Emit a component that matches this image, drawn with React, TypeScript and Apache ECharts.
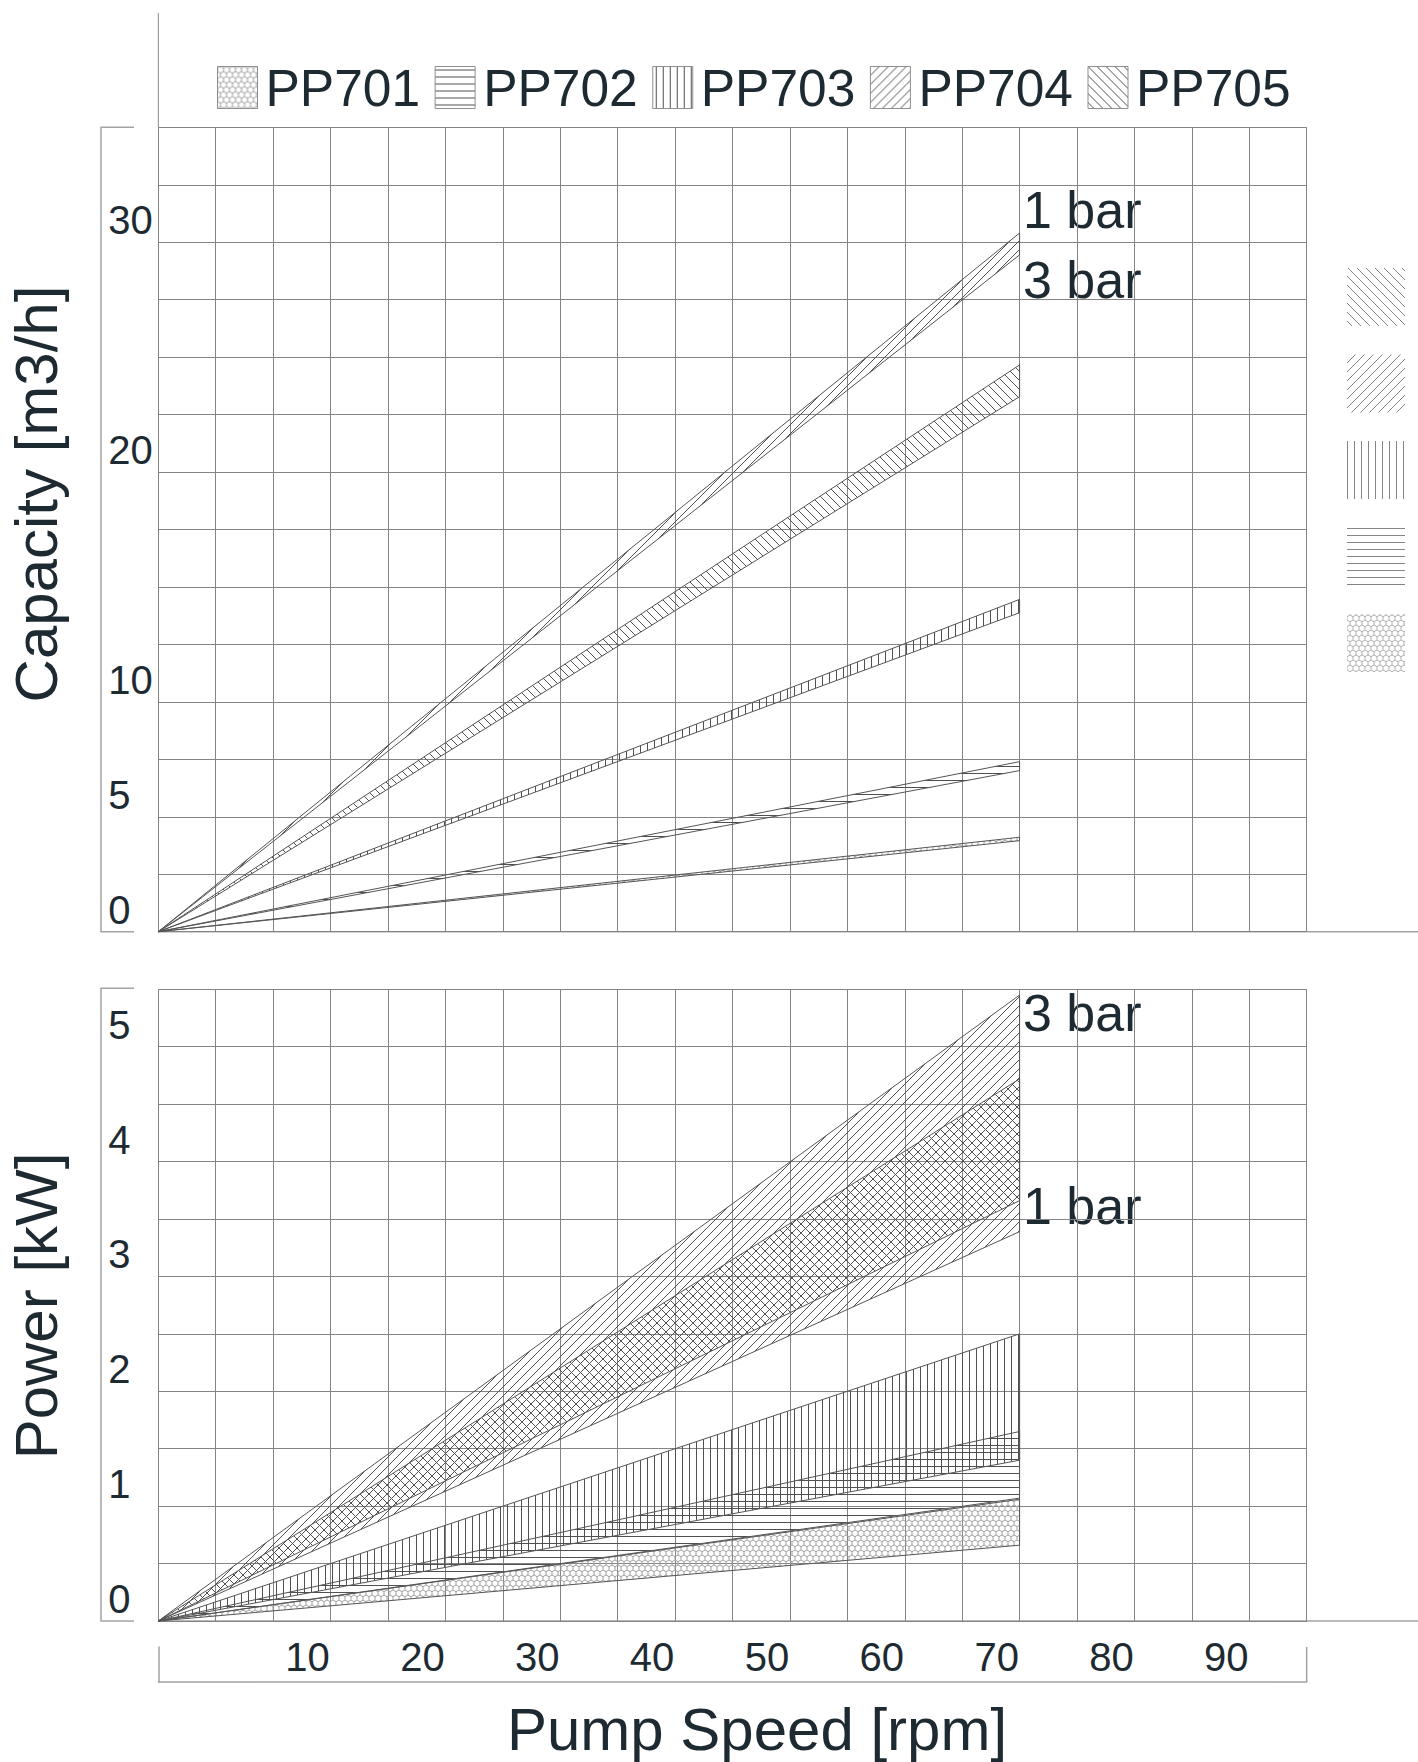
import React, { useEffect, useRef } from 'react';
import * as echarts from 'echarts';

// ---------- data ----------
const pumps = ['PP701', 'PP702', 'PP703', 'PP704', 'PP705'];
const patternKinds = ['hex', 'horizontal', 'vertical', 'slash', 'backslash'];
const rpmEnd = [75, 75, 75, 75, 75];
const capacity1Bar = [4.11, 7.4, 14.46, 30.4, 24.66];
const capacity3Bar = [3.96, 7.01, 13.88, 29.45, 23.28];
const power1Bar = [0.66, 1.07, 1.4, 3.39, 3.66];
const power3Bar = [1.06, 1.65, 2.5, 5.45, 4.72];
const capacityTickLabels = [0, 5, 10, 20, 30];
const powerTickLabels = [0, 1, 2, 3, 4, 5];
const speedTickLabels = [10, 20, 30, 40, 50, 60, 70, 80, 90];
const swatchOrder = ['PP705', 'PP704', 'PP703', 'PP702', 'PP701'];

// ---------- layout / style ----------
const FONT = '"Liberation Sans", Arial, Helvetica, sans-serif';
const TEXT = '#1e2a32';
const GRID = '#848484';
const AXIS = '#a3a3a3';
const GL = 158.3;
const GW = 1148.4;
const G1 = { top: 127.3, height: 804.4 };
const G2 = { top: 989.3, height: 631.7 };
const G3 = { top: 1647, height: 35 };

function makePattern(kind: string, color?: string) {
  let w = 9;
  let h = 9;
  if (kind === 'hex') { w = 6; h = 10; }
  if (kind === 'horizontal' || kind === 'vertical') { w = 7; h = 7; }
  const c = document.createElement('canvas');
  c.width = w;
  c.height = h;
  const ctx = c.getContext('2d') as CanvasRenderingContext2D;
  ctx.strokeStyle = color || (kind === 'hex' ? '#a0a0a0' : '#505050');
  ctx.lineWidth = 1;
  ctx.beginPath();
  if (kind === 'horizontal') {
    ctx.moveTo(0, 3.5); ctx.lineTo(w, 3.5);
  } else if (kind === 'vertical') {
    ctx.moveTo(3.5, 0); ctx.lineTo(3.5, h);
  } else if (kind === 'slash') {
    ctx.moveTo(-1, h + 1); ctx.lineTo(w + 1, -1);
    ctx.moveTo(-1, 1); ctx.lineTo(1, -1);
    ctx.moveTo(w - 1, h + 1); ctx.lineTo(w + 1, h - 1);
  } else if (kind === 'backslash') {
    ctx.moveTo(-1, -1); ctx.lineTo(w + 1, h + 1);
    ctx.moveTo(-1, h - 1); ctx.lineTo(1, h + 1);
    ctx.moveTo(w - 1, -1); ctx.lineTo(w + 1, 1);
  } else {
    const s = h / 3;
    ctx.moveTo(w / 2, 0);
    ctx.lineTo(w, s / 2);
    ctx.lineTo(w, 1.5 * s);
    ctx.lineTo(w / 2, 2 * s);
    ctx.lineTo(0, 1.5 * s);
    ctx.lineTo(0, s / 2);
    ctx.closePath();
    ctx.moveTo(w / 2, 2 * s);
    ctx.lineTo(w / 2, h);
  }
  ctx.stroke();
  return { image: c, repeat: 'repeat', imageWidth: w, imageHeight: h };
}

function textEl(text: string, x: number, y: number, size: number, align = 'left', rotation = 0) {
  return {
    type: 'text',
    x,
    y,
    rotation,
    silent: true,
    style: {
      text,
      x: 0,
      y: 0,
      fill: TEXT,
      font: `${size}px ${FONT}`,
      fontSize: size,
      fontFamily: FONT,
      align,
      textAlign: align,
      verticalAlign: 'middle',
      textVerticalAlign: 'middle',
    },
  };
}

export default function App() {
  const ref = useRef<HTMLDivElement>(null);

  useEffect(() => {
    if (!ref.current) return;
    const chart = echarts.init(ref.current, null, { renderer: 'svg' });
    const patterns = patternKinds.map((k) => makePattern(k));
    const lightPatterns = patternKinds.map((k) => makePattern(k, k === 'hex' ? '#b0b0b0' : '#858585'));
    const swatchPatternOf = (name: string) => lightPatterns[pumps.indexOf(name)];

    const bandSeries = (gi: number, lo: number[], hi: number[]) =>
      pumps.map((name, i) => ({
        type: 'custom',
        name,
        xAxisIndex: gi,
        yAxisIndex: gi,
        silent: true,
        z: 3,
        data: [[rpmEnd[i], lo[i], hi[i]]],
        encode: { x: 0, y: [1, 2] },
        itemStyle: { color: patterns[i] },
        renderItem: (_p: any, api: any) => {
          const o = api.coord([0, 0]);
          const a = api.coord([api.value(0), api.value(2)]);
          const b = api.coord([api.value(0), api.value(1)]);
          return {
            type: 'polygon',
            shape: { points: [o, a, b] },
            style: { fill: patterns[i], stroke: '#555', lineWidth: 1 },
          };
        },
      }));

    const splitLine = { show: true, lineStyle: { color: GRID, width: 1 } };
    const mainX = (gi: number) => ({
      type: 'value', gridIndex: gi, min: 0, max: 100, interval: 5,
      axisLine: { show: false }, axisTick: { show: false }, axisLabel: { show: false },
      splitLine,
    });
    const mainY = (gi: number, max: number, interval: number, labels: number[]) => ({
      type: 'value', gridIndex: gi, min: 0, max, interval,
      axisLine: { show: false }, axisTick: { show: false }, splitLine,
      axisLabel: {
        formatter: (v: number) => (labels.indexOf(v) >= 0 ? String(v) : ''),
        align: 'left', margin: 50, verticalAlign: 'bottom', lineHeight: 44,
        fontSize: 40, color: TEXT, fontFamily: FONT,
      },
    });

    const b1 = G1.top + G1.height;
    const b2 = G2.top + G2.height;
    const b3 = G3.top + G3.height;
    const lineEl = (x1: number, y1: number, x2: number, y2: number, color = AXIS, w = 1.5) => ({
      type: 'line', silent: true, shape: { x1, y1, x2, y2 }, style: { stroke: color, lineWidth: w },
    });
    const bracket = (top: number, bottom: number) => ({
      type: 'polyline', silent: true,
      shape: { points: [[134, top], [101, top], [101, bottom], [134, bottom]] },
      style: { stroke: AXIS, lineWidth: 1.5, fill: null },
    });

    const graphics: any[] = [
      lineEl(GL, 13, GL, G1.top, '#8a8a8a', 1),
      lineEl(GL, b1, 1418, b1),
      lineEl(GL, b2, 1418, b2),
      lineEl(GL + GW, G3.top, GL + GW, b3),
      bracket(G1.top, b1),
      bracket(G2.top - 1, b2),
      ...swatchOrder.map((name, k) => ({
        type: 'rect', silent: true,
        shape: { x: 1347, y: 268 + k * 86.5, width: 58, height: 58 },
        style: { fill: swatchPatternOf(name), stroke: null },
      })),
      textEl('Capacity [m3/h]', 36, 494, 60, 'center', Math.PI / 2),
      textEl('Power [kW]', 36, 1306, 60, 'center', Math.PI / 2),
      textEl('Pump Speed [rpm]', 757, 1729, 60, 'center'),
      textEl('1 bar', 1023, 210, 52),
      textEl('3 bar', 1023, 280, 52),
      textEl('3 bar', 1023, 1013, 52),
      textEl('1 bar', 1023, 1206, 52),
    ];

    const option: any = {
      animation: false,
      backgroundColor: '#ffffff',
      legend: {
        left: 217,
        top: 61.5,
        padding: 0,
        itemWidth: 40,
        itemHeight: 42,
        itemGap: 14.5,
        selectedMode: false,
        icon: 'rect',
        textStyle: { fontSize: 51.5, color: TEXT, fontFamily: FONT, padding: [0, 0, 0, 3] },
        data: pumps.map((name, i) => ({
          name,
          icon: 'rect',
          itemStyle: { color: patterns[i], borderColor: '#8f8f8f', borderWidth: 1 },
        })),
      },
      grid: [
        { left: GL, width: GW, top: G1.top, height: G1.height },
        { left: GL, width: GW, top: G2.top, height: G2.height },
        { left: GL, width: GW, top: G3.top, height: G3.height },
      ],
      xAxis: [
        mainX(0),
        mainX(1),
        {
          type: 'value', gridIndex: 2, min: -3, max: 97, interval: 1,
          axisLine: { show: true, onZero: false, lineStyle: { color: AXIS, width: 1.5 } },
          axisTick: { show: false }, splitLine: { show: false },
          axisLabel: {
            inside: true, margin: 25, verticalAlign: 'middle',
            fontSize: 40, color: TEXT, fontFamily: FONT,
            formatter: (v: number) => {
              const r = Math.round(v);
              return Math.abs(v - r) < 1e-6 && speedTickLabels.indexOf(r) >= 0 ? String(r) : '';
            },
          },
        },
      ],
      yAxis: [
        mainY(0, 35, 2.5, capacityTickLabels),
        mainY(1, 5.5, 0.5, powerTickLabels),
        {
          type: 'value', gridIndex: 2, min: 0, max: 1, position: 'left',
          axisLine: { show: true, onZero: false, lineStyle: { color: AXIS, width: 1.5 } },
          axisTick: { show: false }, axisLabel: { show: false }, splitLine: { show: false },
        },
      ],
      graphic: { elements: graphics },
      series: [...bandSeries(0, capacity3Bar, capacity1Bar), ...bandSeries(1, power1Bar, power3Bar)],
    };
    chart.setOption(option);
    return () => chart.dispose();
  }, []);

  return (
    <div
      ref={ref}
      style={{ position: 'absolute', left: 0, top: 0, width: 1418, height: 1762, background: '#fff' }}
    />
  );
}
